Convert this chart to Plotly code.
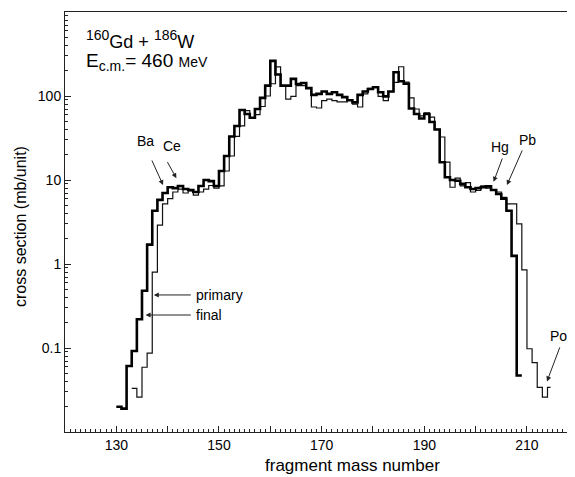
import numpy as np
import plotly.graph_objects as go

# ---- data: histogram of fragment masses (bin left edges are integer mass numbers) ----
final_start = 130
final_values = [0.020, 0.019, 0.061, 0.092, 0.22, 0.48, 1.7, 4.3, 5.8, 7.0,      # 130-139
                8.2, 8.0, 8.5, 7.8, 7.6, 7.2, 8.5, 10.0, 9.7, 8.5,                 # 140-149
                12.8, 19.3, 33, 44, 68, 61, 55, 70, 95, 133,                       # 150-159
                262, 180, 133, 133, 160, 139, 143, 124, 103, 106,                  # 160-169
                113, 106, 111, 103, 97, 89, 84, 103, 113, 121,                     # 170-179
                127, 111, 99, 113, 192, 150, 140, 71, 61, 54,                      # 180-189
                61, 49, 40, 16.3, 10.8, 10.0, 9.8, 9.0, 8.2, 7.8,                  # 190-199
                8.0, 8.2, 8.4, 7.6, 6.8, 6.0, 4.3, 1.25, 0.047]                    # 200-208
final_end = 209

primary_start = 133
primary_values = [0.033, 0.026, 0.059, 0.087, 0.80, 2.9, 5.2,                    # 133-139
                  6.0, 7.2, 7.8, 7.0, 7.4, 6.6, 7.2, 7.8, 8.6, 8.0,                # 140-149
                  8.5, 12.8, 19.3, 33, 44, 67, 55, 60, 75, 100,                    # 150-159
                  140, 222, 133, 92, 99, 133, 133, 124, 74, 72,                    # 160-169
                  88, 92, 88, 85, 85, 90, 80, 74, 106, 123,                        # 170-179
                  129, 99, 88, 113, 145, 223, 146, 95, 70, 58,                     # 180-189
                  63, 56, 40, 32.5, 16.3, 8.2, 10.5, 8.5, 9.3, 7.2,                # 190-199
                  7.5, 8.5, 8.0, 7.5, 7.2, 6.2, 5.2, 5.2, 3.0, 0.85,               # 200-209
                  0.098, 0.067, 0.034, 0.026, 0.034]                               # 210-214
primary_end = 214.6

x_tick_values = [120, 130, 140, 150, 160, 170, 180, 190, 200, 210]
x_tick_labels = ["", "130", "", "150", "", "170", "", "190", "", "210"]
y_tick_values = [0.01, 0.1, 1, 10, 100, 1000]
y_tick_labels = ["", "0.1", "1", "10", "100", ""]


def steps(start, values, end):
    xs = list(np.arange(start, start + len(values))) + [end]
    ys = list(values) + [values[-1]]
    return xs, ys


FONT = "Liberation Sans, Arial, sans-serif"

fig = go.Figure()
xp, yp = steps(primary_start, primary_values, primary_end)
fig.add_trace(go.Scatter(x=xp, y=yp, mode="lines", line=dict(shape="hv", color="#111", width=1.2),
                         name="primary", showlegend=False))
xf, yf = steps(final_start, final_values, final_end)
fig.add_trace(go.Scatter(x=xf, y=yf, mode="lines", line=dict(shape="hv", color="black", width=2.6),
                         name="final", showlegend=False))

minor_y = [m * 10.0 ** d for d in range(-2, 3) for m in range(2, 10)]

# the page body adds an 8px offset, so the figure is placed 8px right/down;
# the plot frame runs off the right edge of the picture
fig.update_layout(
    width=559, height=469,
    margin=dict(l=57, r=0, t=4, b=45),
    paper_bgcolor="white", plot_bgcolor="white",
    font=dict(family=FONT, size=14, color="black"),
    xaxis=dict(range=[120, 217.8], tickvals=x_tick_values, ticktext=x_tick_labels,
               ticks="inside", ticklen=6, tickcolor="#222", showline=True, linecolor="#222",
               linewidth=1, mirror=True, showgrid=False, zeroline=False,
               tickfont=dict(size=14),
               minor=dict(dtick=1, ticks="inside", ticklen=3, tickcolor="#222", showgrid=False)),
    yaxis=dict(type="log", range=[-2, 3], tickvals=y_tick_values, ticktext=y_tick_labels,
               ticks="inside", ticklen=6, tickcolor="#222", showline=True, linecolor="#222",
               linewidth=1, mirror=False, showgrid=False, zeroline=False,
               tickfont=dict(size=14),
               minor=dict(tickvals=minor_y, ticks="inside", ticklen=3, tickcolor="#222", showgrid=False)),
)

ann = []
# axis titles
ann.append(dict(xref="paper", yref="paper", x=0.565 * 508 / 502, y=-0.079, text="fragment mass number",
                showarrow=False, font=dict(size=17), xanchor="center", yanchor="middle"))
ann.append(dict(xref="paper", yref="paper", x=-0.089 * 508 / 502, y=0.49, text="cross section (mb/unit)",
                showarrow=False, font=dict(size=16), textangle=-90, xanchor="center", yanchor="middle"))
# reaction text
ann.append(dict(xref="paper", yref="paper", x=0.038, y=0.935, xanchor="left", yanchor="middle",
                text="<sup><span style='font-size:14px'>160</span></sup>Gd + "
                     "<sup><span style='font-size:14px'>186</span></sup>W",
                showarrow=False, font=dict(size=18)))
ann.append(dict(xref="paper", yref="paper", x=0.038, y=0.882, xanchor="left", yanchor="middle",
                text="E<sub><span style='font-size:14px'>c.m.</span></sub>= 460 "
                     "<span style='font-size:14px'>MeV</span>",
                showarrow=False, font=dict(size=19)))

# element labels with arrows (text, text pos, arrow tail, arrow tip) in data units
labels = [
    ("Ba", (135.7, 29.1), (136.8, 17.8), (139.1, 8.7)),
    ("Ce", (140.9, 25.4), (139.8, 17.0), (141.7, 10.5)),
    ("Hg", (204.8, 24.7), (205.3, 18.8), (203.5, 9.5)),
    ("Pb", (210.1, 29.9), (209.2, 23.4), (206.1, 8.7)),
    ("Po", (216.1, 0.139), (216.5, 0.106), (213.9, 0.040)),
]
for txt, tp, tail, tip in labels:
    ann.append(dict(xref="x", yref="y", x=tp[0], y=np.log10(tp[1]), text=txt, showarrow=False,
                    font=dict(size=14), xanchor="center", yanchor="middle"))
    ann.append(dict(xref="x", yref="y", axref="x", ayref="y", x=tip[0], y=np.log10(tip[1]),
                    ax=tail[0], ay=np.log10(tail[1]), text="", showarrow=True,
                    arrowhead=2, arrowsize=1, arrowwidth=1, arrowcolor="#222"))

for txt, yv, tipx in [("primary", 0.428, 137.3), ("final", 0.247, 135.7)]:
    ann.append(dict(xref="x", yref="y", x=145.2, y=np.log10(yv), text=txt, showarrow=False,
                    font=dict(size=14), xanchor="left", yanchor="middle"))
    ann.append(dict(xref="x", yref="y", axref="x", ayref="y", x=tipx, y=np.log10(yv),
                    ax=144.8, ay=np.log10(yv), text="", showarrow=True,
                    arrowhead=2, arrowsize=1, arrowwidth=1, arrowcolor="#222"))

fig.update_layout(annotations=ann)
fig.write_html("out.html")
